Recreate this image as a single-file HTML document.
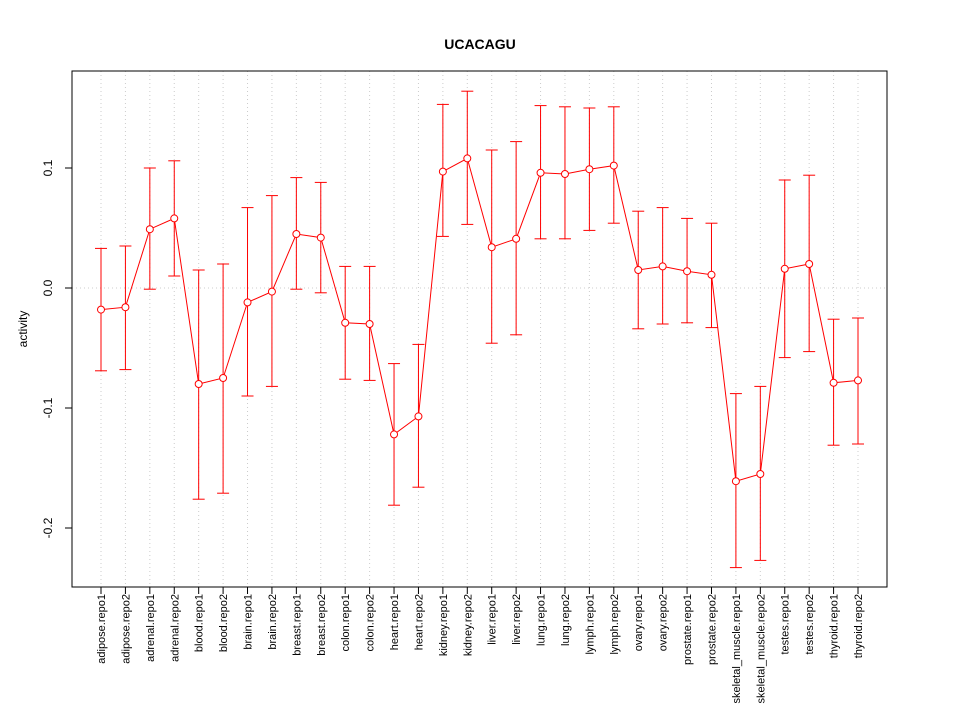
<!DOCTYPE html>
<html><head><meta charset="utf-8"><style>body{margin:0;background:#fff}svg{display:block;font-family:"Liberation Sans",sans-serif}</style></head>
<body>
<svg id="c" width="960" height="720"></svg>
<script>
const categories=["adipose.repo1","adipose.repo2","adrenal.repo1","adrenal.repo2","blood.repo1","blood.repo2","brain.repo1","brain.repo2","breast.repo1","breast.repo2","colon.repo1","colon.repo2","heart.repo1","heart.repo2","kidney.repo1","kidney.repo2","liver.repo1","liver.repo2","lung.repo1","lung.repo2","lymph.repo1","lymph.repo2","ovary.repo1","ovary.repo2","prostate.repo1","prostate.repo2","skeletal_muscle.repo1","skeletal_muscle.repo2","testes.repo1","testes.repo2","thyroid.repo1","thyroid.repo2"];
const values=[-0.018,-0.016,0.049,0.058,-0.080,-0.075,-0.012,-0.003,0.045,0.042,-0.029,-0.030,-0.122,-0.107,0.097,0.108,0.034,0.041,0.096,0.095,0.099,0.102,0.015,0.018,0.014,0.011,-0.161,-0.155,0.016,0.020,-0.079,-0.077];
const upper=[0.033,0.035,0.100,0.106,0.015,0.020,0.067,0.077,0.092,0.088,0.018,0.018,-0.063,-0.047,0.153,0.164,0.115,0.122,0.152,0.151,0.150,0.151,0.064,0.067,0.058,0.054,-0.088,-0.082,0.090,0.094,-0.026,-0.025];
const lower=[-0.069,-0.068,-0.001,0.010,-0.176,-0.171,-0.090,-0.082,-0.001,-0.004,-0.076,-0.077,-0.181,-0.166,0.043,0.053,-0.046,-0.039,0.041,0.041,0.048,0.054,-0.034,-0.030,-0.029,-0.033,-0.233,-0.227,-0.058,-0.053,-0.131,-0.130];
const yTicks=[-0.2,-0.1,0.0,0.1];
const yTickLabels=["-0.2","-0.1","0.0","0.1"];
const L=72,R=887,T=71,B=587;
const n=categories.length;
const xs=i=>101+i*(858-101)/(n-1);
const ys=v=>288-v*1200;
const svg=document.getElementById('c');
const NS="http://www.w3.org/2000/svg";
function mk(tag,a,name,txt){const e=document.createElementNS(NS,tag);for(const k in a)e.setAttribute(k,a[k]);


if(txt!==undefined)e.textContent=txt;svg.appendChild(e);return e;}
for(let i=0;i<n;i++)mk('line',{x1:xs(i),x2:xs(i),y1:T,y2:B,stroke:'#ccc','stroke-dasharray':'1,3'},'grid-v');
mk('line',{x1:L,x2:R,y1:ys(0),y2:ys(0),stroke:'#ccc','stroke-dasharray':'1,3'},'grid-zero');
mk('rect',{x:L,y:T,width:R-L,height:B-T,fill:'none',stroke:'#000'},'plot-frame');
mk('text',{x:480,y:49,'text-anchor':'middle','font-size':14,'font-weight':'bold'},'chart-title','UCACAGU');
mk('text',{transform:'translate(27,329) rotate(-90)','text-anchor':'middle','font-size':12},'y-axis-title','activity');
yTicks.forEach((t,i)=>{mk('line',{x1:L,x2:L-7,y1:ys(t),y2:ys(t),stroke:'#000'},'y-tick');
mk('text',{transform:`translate(52,${ys(t)}) rotate(-90)`,'text-anchor':'middle','font-size':12},'y-tick-label',yTickLabels[i]);});
for(let i=0;i<n;i++){mk('line',{x1:xs(i),x2:xs(i),y1:B,y2:B+7,stroke:'#000'},'x-tick');
mk('text',{transform:`translate(${xs(i)+4},594) rotate(-90)`,'text-anchor':'end','font-size':11},'x-tick-label',categories[i]);}
for(let i=0;i<n;i++){const x=xs(i);
mk('line',{x1:x,x2:x,y1:ys(upper[i]),y2:ys(lower[i]),stroke:'red'},'error-bar');
mk('line',{x1:x-6,x2:x+6,y1:ys(upper[i]),y2:ys(upper[i]),stroke:'red'},'error-cap-upper');
mk('line',{x1:x-6,x2:x+6,y1:ys(lower[i]),y2:ys(lower[i]),stroke:'red'},'error-cap-lower');}
mk('polyline',{points:values.map((v,i)=>xs(i)+','+ys(v)).join(' '),fill:'none',stroke:'red'},'activity-line');
values.forEach((v,i)=>mk('circle',{cx:xs(i),cy:ys(v),r:3.5,fill:'#fff',stroke:'red'},'data-point'));
</script>
</body></html>
